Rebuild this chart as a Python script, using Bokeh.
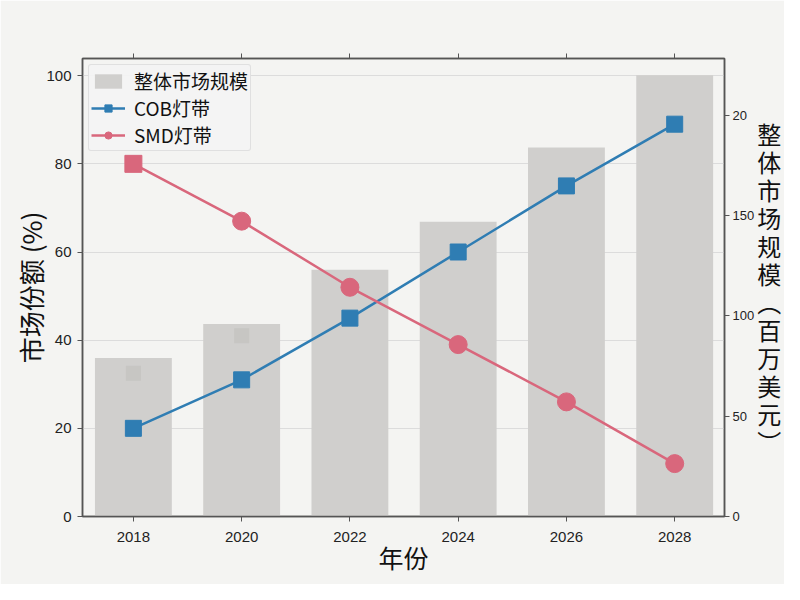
from bokeh.plotting import figure
from bokeh.models import (Range1d, LinearAxis, FixedTicker, Legend, LegendItem,
                          ColumnDataSource)
from bokeh.embed import file_html
from bokeh.resources import INLINE

# data
years = [2018, 2020, 2022, 2024, 2026, 2028]
market_size = [79, 96, 123, 147, 184, 220]      # 百万美元 (right axis)
cob_share = [20, 31, 45, 60, 75, 89]             # %
smd_share = [80, 67, 52, 39, 26, 12]             # %
ghost_years = [2018, 2020]
ghost_share = [32.5, 41]

CJK = "Noto Sans CJK SC"
LAT = "Liberation Sans"
BG = "#f4f4f2"

p = figure(width=784, height=584, output_backend="svg", toolbar_location=None,
           x_range=Range1d(2017.06, 2028.92), y_range=Range1d(0, 103.9),
           x_axis_location=None, y_axis_location=None,
           background_fill_color=BG, border_fill_color=BG,
           min_border_left=82, min_border_right=55, min_border_top=58,
           min_border_bottom=68)
p.extra_y_ranges = {"size": Range1d(0, 228.4)}
p.outline_line_color = "#555555"
p.outline_line_width = 1.5

# bars: overall market size on right axis
src = ColumnDataSource(dict(x=years, top=market_size))
bars = p.vbar(x="x", top="top", width=1.42, source=src, y_range_name="size",
              fill_color="#d0cfcd", line_color=None)

# faint artefact squares
p.scatter(ghost_years, ghost_share, marker="square", size=15,
          fill_color="#c4c3c1", line_color=None, alpha=0.8)

cob_line = p.line(years, cob_share, line_color="#2f7db3", line_width=2.5)
cob_pts = p.scatter(years, cob_share, marker="square", size=16,
                    fill_color="#2f7db3", line_color="#2f7db3")

smd_line = p.line(years, smd_share, line_color="#d9677c", line_width=2.5)
smd_sq = p.scatter(years[:1], smd_share[:1], marker="square", size=17,
                   fill_color="#d9677c", line_color="#d9677c")
smd_pts = p.scatter(years[1:], smd_share[1:], marker="circle", size=18,
                    fill_color="#d9677c", line_color="#d9677c")

# axes
bottom = LinearAxis(ticker=FixedTicker(ticks=years), axis_label="年份")
left = LinearAxis(ticker=FixedTicker(ticks=[0, 20, 40, 60, 80, 100]),
                  axis_label="市场份额 (%)")
right = LinearAxis(y_range_name="size",
                   ticker=FixedTicker(ticks=[0, 50, 100, 150, 200]),
                   major_label_overrides={200: "20"},
                   axis_label="整\n体\n市\n场\n规\n模\n︵\n百\n万\n美\n元\n︶",
                   axis_label_orientation="horizontal")
top = LinearAxis(ticker=FixedTicker(ticks=years), major_label_text_alpha=0,
                 major_label_text_font_size="1px", major_label_standoff=0)
p.add_layout(bottom, "below")
p.add_layout(left, "left")
p.add_layout(right, "right")
p.add_layout(top, "above")

for ax in [bottom, left, right, top]:
    ax.axis_line_color = "#555555"
    ax.axis_line_width = 1.5
    ax.major_tick_line_color = "#555555"
    ax.major_tick_in = 0
    ax.major_tick_out = 5
    ax.minor_tick_line_color = None
    ax.major_label_text_font = LAT
    ax.major_label_text_font_size = "15px"
    ax.major_label_text_color = "#222222"
    ax.axis_label_text_font = CJK
    ax.axis_label_text_font_size = "25px"
    ax.axis_label_text_font_style = "normal"
    ax.axis_label_text_color = "#111111"
bottom.major_label_standoff = 10
bottom.axis_label_standoff = -6
left.major_label_standoff = 6
left.axis_label_standoff = -6
left.axis_label_text_font_size = "26px"
right.major_label_standoff = 3
right.major_label_text_font_size = "13px"
right.axis_label_standoff = 0
right.axis_label_text_line_height = 0.8
right.axis_label_text_font_size = "24px"

p.xgrid.grid_line_color = None
p.ygrid.grid_line_color = "#dcdcdc"
p.ygrid.grid_line_width = 1.2
p.ygrid.ticker = left.ticker

legend = Legend(items=[
    LegendItem(label="整体市场规模", renderers=[bars]),
    LegendItem(label="COB灯带", renderers=[cob_line, cob_pts]),
    LegendItem(label="SMD灯带", renderers=[smd_line, smd_pts]),
], location="top_left")
legend.label_text_font = CJK
legend.label_text_font_size = "19px"
legend.label_height = 18
legend.label_text_color = "#111111"
legend.background_fill_color = "#f4f4f4"
legend.background_fill_alpha = 0.9
legend.border_line_color = "#cccccc"
legend.border_radius = 3
legend.glyph_width = 34
legend.glyph_height = 18
legend.spacing = -5      # CJK line metrics make rows tall; pull them together
legend.padding = 2
legend.margin = 6
legend.label_standoff = 9
p.add_layout(legend)

open("out.html", "w").write(file_html(p, INLINE))
